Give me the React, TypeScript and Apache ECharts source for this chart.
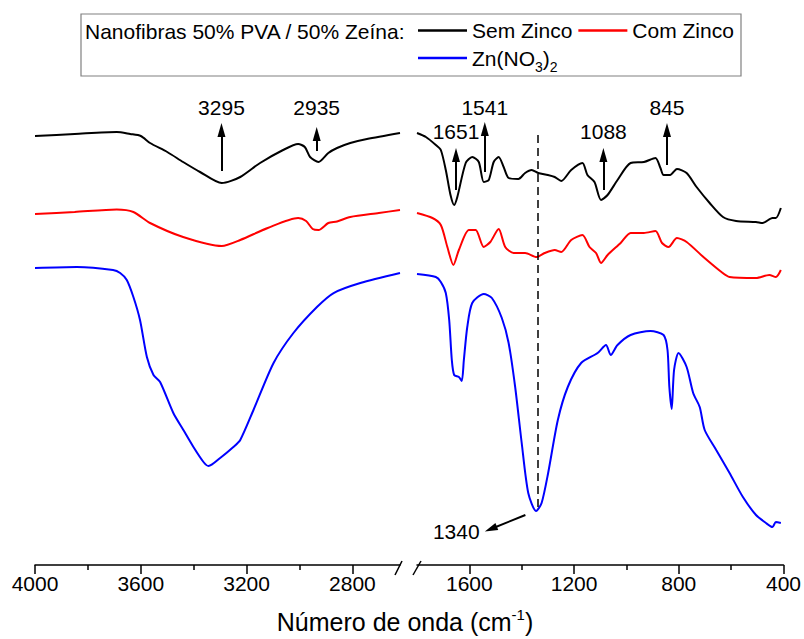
import React, { useEffect, useRef } from 'react';
import * as echarts from 'echarts';

const FONT = '"Liberation Sans", Arial, Helvetica, sans-serif';

// ---- Data (wavenumber in cm-1, intensity in arbitrary offset units) ----
// High wavenumber region (4000 - 2620)
const semZincoHighWn = [4000, 3850, 3691, 3640, 3600, 3565, 3500, 3440, 3376, 3294, 3224, 3149, 3062, 3005, 2980, 2960, 2928, 2891, 2858, 2808, 2745, 2620];
const semZincoHighT = [429, 431, 433, 431, 429, 422, 413, 403, 393, 382, 388, 402, 415, 421, 418, 408, 403, 412, 417, 422, 426, 432];

const comZincoHighWn = [4000, 3850, 3691, 3628, 3565, 3440, 3294, 3224, 3120, 3005, 2975, 2950, 2928, 2891, 2858, 2808, 2700, 2620];
const comZincoHighT = [351, 353, 355.5, 353, 342, 328, 319, 325, 337, 347, 344, 336, 335, 342, 343.5, 348, 352, 355];

const znHighWn = [4000, 3842, 3705, 3678, 3653, 3628, 3603, 3577, 3552, 3527, 3477, 3439, 3401, 3363, 3344, 3300, 3250, 3224, 3174, 3098, 3023, 2934, 2871, 2770, 2620];
const znHighT = [297, 298, 295, 292, 285, 268, 245, 208, 190, 183, 152, 135, 118, 103, 99, 107, 118, 125, 155, 202, 232, 258, 272, 282, 292];

// Low wavenumber region (1800 - 400)
const semZincoLowWn = [1800, 1766, 1728, 1709, 1690, 1672, 1658, 1646, 1614, 1589, 1564, 1545, 1526, 1507, 1488, 1469, 1450, 1413, 1387, 1362, 1337, 1300, 1274, 1249, 1211, 1168, 1149, 1122, 1097, 1072, 1034, 984, 933, 889, 870, 858, 833, 807, 770, 732, 682, 631, 581, 505, 480, 442, 429, 410];
const semZincoLowT = [432, 428, 420, 415, 395, 370, 360, 368, 402, 408, 403, 383, 385, 403, 408, 398, 387, 386, 392, 395, 392, 390, 388, 384, 395, 402, 390, 383, 365, 370, 385, 402, 403, 407, 397, 390, 390, 396, 392, 378, 362, 348, 344, 343, 342, 347, 347, 357];

const comZincoLowWn = [1800, 1741, 1709, 1684, 1661, 1640, 1602, 1576, 1545, 1520, 1488, 1463, 1431, 1387, 1343, 1312, 1274, 1249, 1211, 1168, 1141, 1116, 1097, 1072, 1022, 984, 933, 889, 864, 839, 807, 770, 706, 637, 606, 505, 454, 429, 410];
const comZincoLowT = [352, 347, 340, 318, 300, 315, 335, 335, 318, 323, 336, 318, 312, 312, 308, 312, 315, 313, 325, 330, 318, 312, 302, 310, 322, 332, 332, 334, 322, 318, 327, 323, 308, 293, 288, 287, 290, 288, 295];

const znLowWn = [1800, 1728, 1709, 1690, 1677, 1667, 1658, 1640, 1629, 1621, 1608, 1589, 1545, 1514, 1476, 1450, 1425, 1400, 1375, 1345, 1324, 1299, 1262, 1224, 1173, 1110, 1078, 1060, 1034, 984, 908, 858, 843, 836, 827, 818, 801, 770, 745, 720, 701, 657, 606, 555, 505, 467, 442, 429, 410];
const znLowT = [291, 288, 283, 272, 245, 205, 190, 188, 184, 205, 238, 262, 271, 267, 247, 222, 178, 122, 72, 54, 62, 92, 145, 178, 202, 212, 220, 210, 220, 230, 234, 230, 215, 178, 156, 195, 212, 198, 172, 158, 135, 115, 92, 68, 50, 42, 38, 43, 42];

// Axis ticks
const highMajorTicks = [4000, 3600, 3200, 2800];
const highMinorTicks = [3800, 3400, 3000];
const lowMajorTicks = [1600, 1200, 800, 400];
const lowMinorTicks = [1400, 1000, 600];

// Peak annotations: [wavenumber, arrow start, arrow end, label level]
const highPeaks = [
  [3295, 394, 435, 458],
  [2935, 414, 431, 458],
];
const lowPeaks = [
  [1651, 375, 410, 434],
  [1541, 393, 436, 458],
  [1088, 375, 410, 434],
  [845, 400, 435, 458],
];
const nitrateBand = 1340;

const names = { sem: 'Sem Zinco', com: 'Com Zinco', zn: 'Zn(NO3)2' };

const zip = (xs: number[], ys: number[]) => xs.map((x, i) => [x, ys[i]]);

const txt = { fontFamily: FONT, color: '#000' };
const ARROW = 'path://M4,0L8,14L0,14Z';

function arrowMarkLine(peaks: number[][]) {
  return {
    silent: true,
    animation: false,
    symbol: ['none', ARROW],
    symbolSize: 14,
    symbolKeepAspect: true,
    label: { show: false },
    lineStyle: { color: '#000', width: 2, type: 'solid' },
    itemStyle: { color: '#000' },
    data: peaks.map((p) => [{ coord: [p[0], p[1]] }, { coord: [p[0], p[2]] }]),
  };
}

function labelMarkPoint(items: { name: string; coord: number[] }[]) {
  return {
    silent: true,
    animation: false,
    symbol: 'circle',
    symbolSize: 0,
    itemStyle: { color: 'transparent' },
    label: {
      show: true,
      position: 'inside',
      formatter: '{b}',
      fontSize: 21,
      fontFamily: FONT,
      color: '#000',
      textBorderWidth: 0,
    },
    data: items,
  };
}

function xAxes(gridIndex: number, min: number, max: number, majors: number[], minors: number[]) {
  return [
    {
      type: 'value', gridIndex, min, max, inverse: true, position: 'bottom',
      axisLine: { show: true, onZero: false, lineStyle: { color: '#000', width: 1.5 } },
      axisTick: { show: true, customValues: majors, length: 9, lineStyle: { color: '#000', width: 1.5 } },
      axisLabel: { show: true, customValues: majors, margin: 8, fontSize: 21, ...txt, formatter: (v: number) => String(v) },
      splitLine: { show: false },
    },
    {
      type: 'value', gridIndex, min, max, inverse: true, position: 'bottom',
      axisLine: { show: false, onZero: false },
      axisTick: { show: true, customValues: minors, length: 5, lineStyle: { color: '#000', width: 1.5 } },
      axisLabel: { show: false },
      splitLine: { show: false },
    },
  ];
}

export default function App() {
  const ref = useRef<HTMLDivElement>(null);
  useEffect(() => {
    if (!ref.current) return;
    const chart = echarts.init(ref.current, null, { renderer: 'svg' });
    const line = (name: string, color: string, data: number[][], xi: number, yi: number, extra: any = {}) => ({
      type: 'line', name, data, xAxisIndex: xi, yAxisIndex: yi,
      symbol: 'none', showSymbol: false, smooth: 0.25,
      lineStyle: { color, width: 2 }, itemStyle: { color },
      ...extra,
    });
    const option: any = {
      animation: false,
      backgroundColor: '#fff',
      grid: [
        { left: 35, width: 365, top: 90, height: 475 },
        { left: 417, width: 371, top: 90, height: 475 },
      ],
      xAxis: [
        ...xAxes(0, 2620, 4000, highMajorTicks, highMinorTicks),
        ...xAxes(1, 400, 1800, lowMajorTicks, lowMinorTicks),
      ],
      yAxis: [
        { type: 'value', gridIndex: 0, min: 0, max: 475, show: false },
        { type: 'value', gridIndex: 1, min: 0, max: 475, show: false },
      ],
      legend: [
        {
          data: [names.sem, names.com], left: 418, top: 20, padding: 0,
          icon: 'rect', itemWidth: 49, itemHeight: 2.5, itemGap: 6,
          textStyle: { fontSize: 21, ...txt },
        },
        {
          data: [names.zn], left: 418, top: 46, padding: 0,
          icon: 'rect', itemWidth: 49, itemHeight: 2.5,
          formatter: () => 'Zn(NO{sub|3}){sub|2}',
          textStyle: {
            fontSize: 21, ...txt, lineHeight: 24,
            rich: { sub: { fontSize: 14, fontFamily: FONT, color: '#000', verticalAlign: 'bottom', lineHeight: 24, padding: [0, 0, -4, 0] } },
          },
        },
      ],
      series: [
        line(names.sem, '#000000', zip(semZincoHighWn, semZincoHighT), 0, 0, {
          markLine: arrowMarkLine(highPeaks),
          markPoint: labelMarkPoint(highPeaks.map((p) => ({ name: String(p[0]), coord: [p[0], p[3]] }))),
        }),
        line(names.com, '#ff0000', zip(comZincoHighWn, comZincoHighT), 0, 0),
        line(names.zn, '#0000ff', zip(znHighWn, znHighT), 0, 0),
        line(names.sem, '#000000', zip(semZincoLowWn, semZincoLowT), 2, 1, {
          markLine: arrowMarkLine(lowPeaks),
          markPoint: labelMarkPoint(lowPeaks.map((p) => ({ name: String(p[0]), coord: [p[0], p[3]] }))),
        }),
        line(names.com, '#ff0000', zip(comZincoLowWn, comZincoLowT), 2, 1),
        line(names.zn, '#0000ff', zip(znLowWn, znLowT), 2, 1, {
          markLine: {
            silent: true, animation: false,
            symbol: ['none', ARROW],
            symbolSize: 13,
            symbolKeepAspect: true,
            label: { show: false },
            itemStyle: { color: '#000' },
            lineStyle: { color: '#000', width: 2, type: 'solid' },
            data: [
              [
                { coord: [nitrateBand, 430], symbol: 'none', lineStyle: { type: [8, 5], color: '#000', width: 1.5 } },
                { coord: [nitrateBand, 55], symbol: 'none' },
              ],
              [
                { coord: [1386, 50] },
                { coord: [1518, 36] },
              ],
            ],
          },
          markPoint: labelMarkPoint([{ name: String(nitrateBand), coord: [1650, 34] }]),
        }),
      ],
      graphic: [
        { type: 'rect', shape: { x: 81, y: 14, width: 660, height: 62 }, style: { fill: 'none', stroke: '#808080', lineWidth: 1.2 }, silent: true },
        { type: 'text', x: 85, y: 31, style: { text: 'Nanofibras 50% PVA / 50% Zeína:', fontSize: 21, fontFamily: FONT, fill: '#000', verticalAlign: 'middle' }, silent: true },
        { type: 'line', shape: { x1: 395, y1: 575, x2: 402, y2: 561 }, style: { stroke: '#000', lineWidth: 1.5 }, silent: true },
        { type: 'line', shape: { x1: 413, y1: 575, x2: 421, y2: 561 }, style: { stroke: '#000', lineWidth: 1.5 }, silent: true },
        {
          type: 'text', x: 405, y: 622, silent: true,
          style: {
            text: 'Número de onda (cm{sup|-1})',
            fontSize: 25, fontFamily: FONT, fill: '#000', align: 'center', verticalAlign: 'middle', lineHeight: 30,
            rich: { sup: { fontSize: 15, fontFamily: FONT, fill: '#000', verticalAlign: 'top', lineHeight: 30, padding: [0, 0, 10, 0] } },
          },
        },
      ],
    };
    chart.setOption(option);
    return () => chart.dispose();
  }, []);
  return <div ref={ref} style={{ position: 'fixed', left: 0, top: 0, width: 804, height: 639 }} />;
}
